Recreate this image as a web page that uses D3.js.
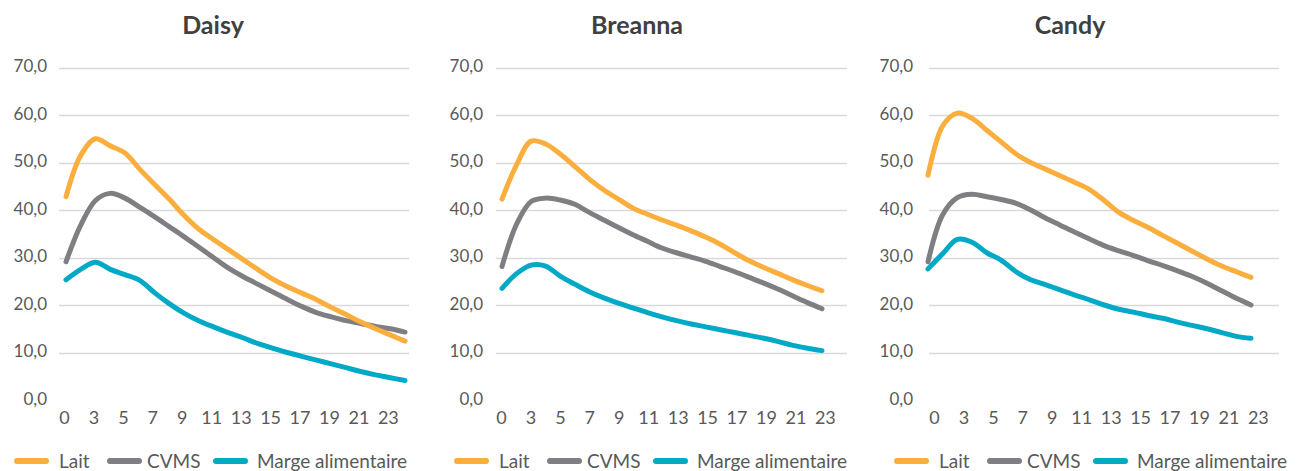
<!DOCTYPE html>
<html><head><meta charset="utf-8">
<script src="https://cdn.jsdelivr.net/npm/d3@7"></script>
<style>
html,body{margin:0;padding:0;background:#fff;}
svg{display:block;font-family:Lato,"Open Sans",sans-serif;}
</style></head>
<body>
<svg id="chart" width="1301" height="471"></svg>
<script>
// ---- data ----
const panelNames = ["Daisy", "Breanna", "Candy"];
const seriesNames = ["Lait", "CVMS", "Marge alimentaire"];
const xTickLabels = ["0","3","5","7","9","11","13","15","17","19","21","23"];
const yTicks = [0,10,20,30,40,50,60,70];

const daisyLait  = [42.8,51.5,55.0,53.5,52.0,48.6,45.4,42.3,38.9,36.0,33.8,31.7,29.6,27.5,25.5,23.9,22.5,21.1,19.5,18.0,16.4,15.0,13.7,12.4];
const daisyCvms  = [29.1,36.8,42.0,43.5,42.5,40.6,38.6,36.5,34.4,32.2,30.0,27.8,26.0,24.4,22.8,21.2,19.7,18.4,17.5,16.7,16.1,15.5,15.0,14.3];
const daisyMarge = [25.3,27.5,29.0,27.5,26.4,25.2,22.6,20.3,18.3,16.7,15.4,14.2,13.1,11.9,10.9,10.0,9.2,8.4,7.6,6.8,6.0,5.3,4.7,4.1];

const breannaLait  = [42.3,49.5,54.5,53.9,51.8,49.2,46.5,44.2,42.3,40.4,39.1,37.9,36.8,35.6,34.3,32.8,31.0,29.3,27.9,26.6,25.3,24.1,23.0];
const breannaCvms  = [28.1,37.0,41.8,42.5,42.1,41.2,39.5,37.9,36.3,34.8,33.4,32.0,31.0,30.1,29.2,28.1,27.0,25.8,24.6,23.3,21.9,20.5,19.2];
const breannaMarge = [23.5,26.6,28.4,28.2,26.1,24.4,22.8,21.5,20.4,19.4,18.4,17.5,16.7,16.0,15.4,14.8,14.2,13.6,13.0,12.3,11.5,10.9,10.4];

const candyLait  = [47.3,57.7,60.4,59.3,56.8,54.3,51.8,50.0,48.6,47.2,45.8,44.3,42.0,39.5,37.8,36.3,34.6,33.0,31.3,29.7,28.2,27.0,25.8];
const candyCvms  = [29.1,39.0,42.6,43.3,42.8,42.2,41.4,40.0,38.3,36.8,35.3,33.9,32.5,31.4,30.4,29.3,28.3,27.2,26.0,24.6,23.0,21.4,20.0];
const candyMarge = [27.6,30.8,33.8,33.2,31.0,29.4,27.0,25.3,24.3,23.2,22.1,21.1,20.0,19.1,18.5,17.8,17.2,16.4,15.7,15.0,14.2,13.4,13.0];

const panelData = [
  [daisyLait, daisyCvms, daisyMarge],
  [breannaLait, breannaCvms, breannaMarge],
  [candyLait, candyCvms, candyMarge]
];

// ---- layout / style ----
const colors = ["#FAAE3E", "#7F7F83", "#00A9C5"];
const layout = [
  {gl: 59,  gr: 409,  titleX: 213,  yLabelX: 47,  lineX: [66, 405],   legendX: 14},
  {gl: 496, gr: 847,  titleX: 637,  yLabelX: 483, lineX: [502, 822],  legendX: 454},
  {gl: 929, gr: 1279, titleX: 1070, yLabelX: 913, lineX: [928, 1251], legendX: 894}
];
const legendOffsets = [{sw: 0, tx: 45}, {sw: 93, tx: 133}, {sw: 199, tx: 243}];

const svg = d3.select("#chart");
const y = d3.scaleLinear().domain([0, 70]).range([400, 67.5]);

panelNames.forEach((name, p) => {
  const L = layout[p];
  const g = svg.append("g");

  // title
  g.append("text").attr("x", L.titleX).attr("y", 34)
    .attr("text-anchor", "middle").attr("font-size", 25).attr("font-weight", 700)
    .attr("fill", "#404040").text(name);

  // gridlines
  g.selectAll("line.grid").data(yTicks.filter(d => d > 0)).join("line")
    .attr("x1", L.gl).attr("x2", L.gr)
    .attr("y1", d => Math.round(y(d)) + 0.5).attr("y2", d => Math.round(y(d)) + 0.5)
    .attr("stroke", "#D9D9D9").attr("stroke-width", 1.3);

  // y labels
  g.selectAll("text.ylab").data(yTicks).join("text")
    .attr("x", L.yLabelX).attr("y", d => y(d) - 1)
    .attr("dy", "0.35em").attr("text-anchor", "end")
    .attr("font-size", 17).attr("fill", "#595959")
    .text(d => d3.format(".1f")(d).replace(".", ","));

  // x labels (every second category)
  const xCat = d3.scaleLinear().domain([0, 22]).range([L.gl + 5.5, L.gl + 5.5 + 22 * 14.72]);
  g.selectAll("text.xlab").data(xTickLabels).join("text")
    .attr("x", (d, i) => xCat(i * 2)).attr("y", 418)
    .attr("dy", "0.35em").attr("text-anchor", "middle")
    .attr("font-size", 18).attr("fill", "#595959").text(d => d);

  // lines
  const series = panelData[p];
  const n = series[0].length;
  const xs = d3.scaleLinear().domain([0, n - 1]).range(L.lineX);
  const line = d3.line().x((d, i) => xs(i)).y(d => y(d)).curve(d3.curveCatmullRom.alpha(0.5));
  series.slice().reverse().forEach((vals, ri) => {
    const si = series.length - 1 - ri;
    g.append("path").datum(vals).attr("d", line)
      .attr("fill", "none").attr("stroke", colors[si])
      .attr("stroke-width", 5).attr("stroke-linecap", "round").attr("stroke-linejoin", "round");
  });

  // legend
  seriesNames.forEach((s, si) => {
    const o = legendOffsets[si];
    g.append("line").attr("x1", L.legendX + o.sw + 3).attr("x2", L.legendX + o.sw + 32)
      .attr("y1", 461).attr("y2", 461).attr("stroke", colors[si])
      .attr("stroke-width", 6).attr("stroke-linecap", "round");
    g.append("text").attr("x", L.legendX + o.tx).attr("y", 461).attr("dy", "0.35em")
      .attr("font-size", 19).attr("fill", "#595959").text(s);
  });
});
</script>
</body></html>
